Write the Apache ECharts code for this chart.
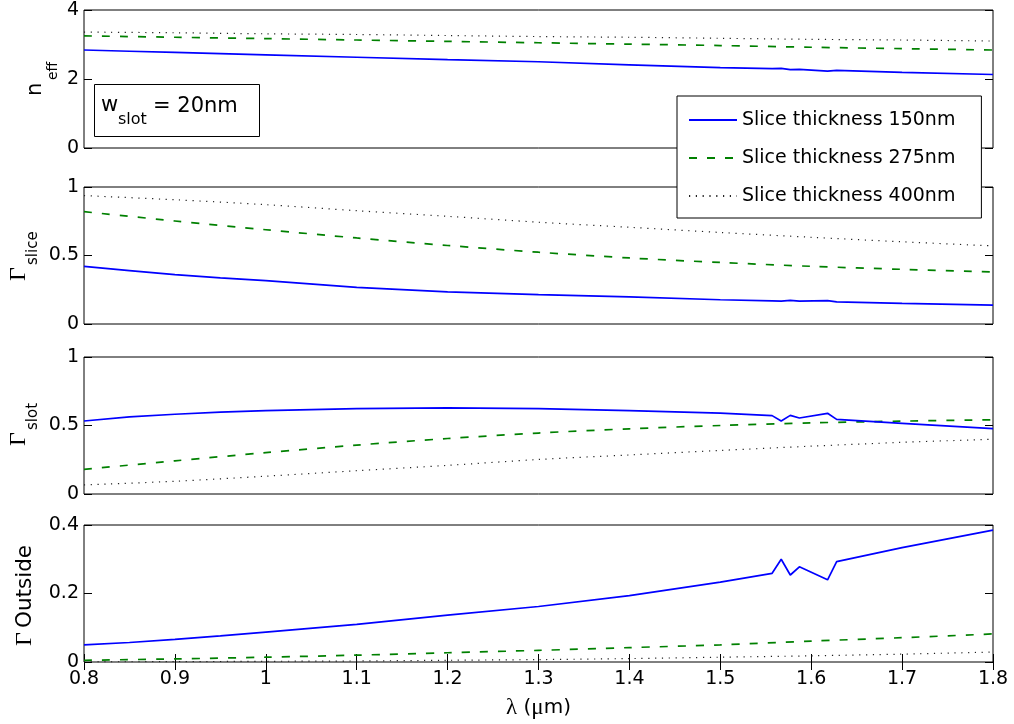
<!DOCTYPE html>
<html>
<head>
<meta charset="utf-8">
<script src="https://cdn.jsdelivr.net/npm/echarts@6/dist/echarts.min.js"></script>
<style>
  html, body { margin: 0; padding: 0; background: #fff; }
  #chart { width: 1014px; height: 724px; }
</style>
</head>
<body>
<div id="chart"></div>
<script>
// Wavelength samples (µm)
const lambda = [0.8, 0.9, 1.0, 1.1, 1.2, 1.3, 1.4, 1.5, 1.6, 1.7, 1.8];
const lambdaFine = [0.8, 0.85, 0.9, 0.95, 1.0, 1.1, 1.2, 1.3, 1.4, 1.5, 1.557, 1.567, 1.577, 1.587, 1.618, 1.628, 1.7, 1.8];

const seriesNames = ['Slice thickness 150nm', 'Slice thickness 275nm', 'Slice thickness 400nm'];

// Effective index
const neff150 = [2.84, 2.805, 2.77, 2.735, 2.70, 2.63, 2.56, 2.50, 2.41, 2.33, 2.30, 2.31, 2.27, 2.28, 2.23, 2.25, 2.19, 2.13];
const neff275 = [3.25, 3.21, 3.17, 3.13, 3.09, 3.05, 3.01, 2.97, 2.92, 2.88, 2.84];
const neff400 = [3.36, 3.34, 3.31, 3.29, 3.26, 3.23, 3.21, 3.18, 3.15, 3.13, 3.10];

// Confinement in the slice
const gSlice150 = [0.42, 0.39, 0.36, 0.337, 0.316, 0.268, 0.234, 0.214, 0.198, 0.177, 0.169, 0.167, 0.172, 0.167, 0.171, 0.162, 0.150, 0.138];
const gSlice275 = [0.82, 0.752, 0.688, 0.628, 0.573, 0.524, 0.482, 0.449, 0.421, 0.399, 0.38];
const gSlice400 = [0.937, 0.907, 0.871, 0.827, 0.786, 0.743, 0.706, 0.668, 0.633, 0.60, 0.57];

// Confinement in the slot
const gSlot150 = [0.533, 0.563, 0.582, 0.597, 0.608, 0.623, 0.628, 0.623, 0.608, 0.59, 0.572, 0.533, 0.574, 0.555, 0.589, 0.545, 0.516, 0.477];
const gSlot275 = [0.18, 0.242, 0.302, 0.357, 0.405, 0.445, 0.476, 0.50, 0.519, 0.532, 0.542];
const gSlot400 = [0.066, 0.093, 0.13, 0.17, 0.209, 0.252, 0.285, 0.318, 0.349, 0.377, 0.40];

// Confinement outside
const gOut150 = [0.05, 0.057, 0.066, 0.076, 0.087, 0.11, 0.137, 0.162, 0.194, 0.233, 0.259, 0.30, 0.254, 0.278, 0.24, 0.293, 0.334, 0.385];
const gOut275 = [0.005, 0.009, 0.014, 0.02, 0.027, 0.034, 0.042, 0.05, 0.061, 0.071, 0.082];
const gOut400 = [0.0005, 0.001, 0.002, 0.003, 0.005, 0.007, 0.01, 0.014, 0.018, 0.023, 0.029];

// Y-axis ranges per panel
const yMin = [0, 0, 0, 0];
const yMax = [4, 1, 1, 0.4];
const yStep = [2, 0.5, 0.5, 0.2];

const SANS = 'DejaVu Sans';
const SERIF = 'Liberation Serif';

const pairs = (xs, ys) => xs.map((x, i) => [x, ys[i]]);

const panelTop = [10, 187, 357, 525];
const panelHeight = [138, 137, 137, 137];
const LEFT = 84, RIGHT = 21;

const grids = panelTop.map((t, i) => ({
  left: LEFT, right: RIGHT, top: t, height: panelHeight[i],
  show: true, borderColor: '#000', borderWidth: 1, backgroundColor: 'transparent'
}));

const tickStyle = { show: true, inside: true, length: 8, lineStyle: { color: '#000', width: 1 } };

const xAxes = [];
for (let i = 0; i < 4; i++) {
  const last = i === 3;
  xAxes.push({
    type: 'value', gridIndex: i, position: 'bottom',
    min: 0.8, max: 1.8, interval: 0.1,
    axisLine: { show: false },
    axisTick: Object.assign({}, tickStyle, { show: last }),
    axisLabel: { show: last, color: '#000', fontFamily: SANS, fontSize: 19, margin: 8 },
    splitLine: { show: false },
    name: last ? '{l|λ}{t| (}{l|μ}{t|m)}' : '',
    nameLocation: 'middle', nameGap: 34,
    nameTextStyle: {
      rich: {
        l: { fontFamily: SERIF, fontSize: 23, color: '#000' },
        t: { fontFamily: SANS, fontSize: 20, color: '#000' }
      }
    }
  });
}
// top ticks on the bottom panel
xAxes.push({
  type: 'value', gridIndex: 3, position: 'top',
  min: 0.8, max: 1.8, interval: 0.1,
  axisLine: { show: false },
  axisTick: tickStyle,
  axisLabel: { show: false }, splitLine: { show: false }
});

const yAxes = [];
for (let i = 0; i < 4; i++) {
  yAxes.push({
    type: 'value', gridIndex: i, position: 'left',
    min: yMin[i], max: yMax[i], interval: yStep[i],
    axisLine: { show: false },
    axisTick: tickStyle,
    axisLabel: { color: '#000', fontFamily: SANS, fontSize: 19, margin: 5 },
    splitLine: { show: false }
  });
}
for (let i = 0; i < 4; i++) {
  yAxes.push({
    type: 'value', gridIndex: i, position: 'right',
    min: yMin[i], max: yMax[i], interval: yStep[i],
    axisLine: { show: false },
    axisTick: tickStyle,
    axisLabel: { show: false },
    splitLine: { show: false }
  });
}

const styles = [
  { color: '#0000ff', width: 1.7, type: 'solid' },
  { color: '#008000', width: 1.7, type: [8, 10] },
  { color: '#222222', width: 1.2, type: [1.2, 5.6] }
];

const panels = [
  [[lambdaFine, neff150], [lambda, neff275], [lambda, neff400]],
  [[lambdaFine, gSlice150], [lambda, gSlice275], [lambda, gSlice400]],
  [[lambdaFine, gSlot150], [lambda, gSlot275], [lambda, gSlot400]],
  [[lambdaFine, gOut150], [lambda, gOut275], [lambda, gOut400]]
];

const series = [];
panels.forEach((p, pi) => {
  p.forEach(([xs, ys], si) => {
    series.push({
      type: 'line', name: seriesNames[si],
      xAxisIndex: pi, yAxisIndex: pi,
      data: pairs(xs, ys),
      symbol: 'none', showSymbol: false,
      smooth: si === 0 ? false : 0.3,
      clip: true,
      itemStyle: { color: styles[si].color },
      lineStyle: { color: styles[si].color, width: styles[si].width, type: styles[si].type },
      emphasis: { disabled: true },
      z: 3 - si
    });
  });
});

// rotated axis titles and annotation box
function rotText(text, x, y, size, family) {
  return {
    type: 'text', x: x, y: y, rotation: Math.PI / 2, z: 20,
    style: { text: text, fontSize: size, fontFamily: family, fill: '#000', align: 'left', verticalAlign: 'middle' }
  };
}
function flatText(text, x, y, size, family) {
  return {
    type: 'text', x: x, y: y, z: 21,
    style: { text: text, fontSize: size, fontFamily: family, fill: '#000', align: 'left', verticalAlign: 'middle' }
  };
}

const graphics = [
  rotText('n', 35.7, 96, 21, SANS),
  rotText('eff', 53.2, 80, 14, SANS),
  rotText('Γ', 18.9, 281, 24, SERIF),
  rotText('slice', 32.8, 265, 15, SANS),
  rotText('Γ', 18.9, 446, 24, SERIF),
  rotText('slot', 32.8, 430, 15, SANS),
  rotText('Γ', 24.9, 646, 24, SERIF),
  rotText('Outside', 25.6, 628, 21.5, SANS),
  {
    type: 'rect', z: 20,
    shape: { x: 94.5, y: 84.5, width: 165, height: 52 },
    style: { fill: '#fff', stroke: '#000', lineWidth: 1 }
  },
  flatText('w', 101, 105.9, 21, SANS),
  flatText('slot', 118, 119.5, 16, SANS),
  flatText('= 20nm', 153, 106.2, 21, SANS)
];

const chart = echarts.init(document.getElementById('chart'), null, { renderer: 'canvas' });
chart.setOption({
  animation: false,
  backgroundColor: '#fff',
  grid: grids,
  xAxis: xAxes,
  yAxis: yAxes,
  legend: {
    data: seriesNames,
    orient: 'vertical',
    left: 677, top: 96,
    padding: [12, 26, 10, 11],
    itemWidth: 48, itemHeight: 14, itemGap: 14,
    backgroundColor: '#fff', borderColor: '#000', borderWidth: 1, borderRadius: 0,
    itemStyle: { color: 'rgba(0,0,0,0)', borderWidth: 0, opacity: 0 },
    textStyle: { color: '#000', fontFamily: SANS, fontSize: 19, lineHeight: 24 },
    selectedMode: false,
    z: 30
  },
  graphic: graphics,
  series: series
});
</script>
</body>
</html>
